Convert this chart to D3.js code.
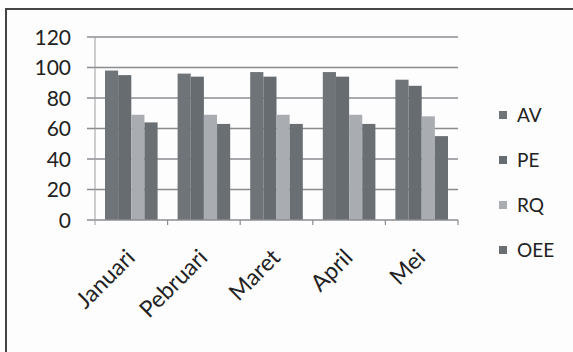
<!DOCTYPE html>
<html><head><meta charset="utf-8">
<script src="https://cdn.jsdelivr.net/npm/d3@7"></script>
<style>
html,body{margin:0;padding:0;background:#fdfdfd;}
svg{display:block;}
text{font-family:Lato,"Open Sans",sans-serif;fill:#222;}
</style></head><body>
<svg id="c" width="573" height="352"></svg>
<script>
const categories = ["Januari","Pebruari","Maret","April","Mei"];
const seriesNames = ["AV","PE","RQ","OEE"];
const AV  = [98, 96, 97, 97, 92];
const PE  = [95, 94, 94, 94, 88];
const RQ  = [69, 69, 69, 69, 68];
const OEE = [64, 63, 63, 63, 55];
const yTicks = [0,20,40,60,80,100,120];
const colors = ["#6f7479","#676c71","#a9adb2","#6a6f74"];

const values = [AV, PE, RQ, OEE];
const svg = d3.select("#c");

// frame
svg.append("path").attr("d","M6,352 L6,9 L573,9").attr("fill","none")
  .attr("stroke","#444").attr("stroke-width",2);

const x = d3.scaleBand().domain(categories).range([95,458]).padding(0);
const gap = 10;
const xs = d3.scaleBand().domain(seriesNames).range([gap, x.bandwidth()-gap]).padding(0);
const y = d3.scaleLinear().domain([0,120]).range([220,37]);

// gridlines
svg.append("g").selectAll("line").data(yTicks.filter(d=>d>0)).join("line")
  .attr("x1",87).attr("x2",458).attr("y1",d=>y(d)).attr("y2",d=>y(d))
  .attr("stroke","#8a8d90").attr("stroke-width",1.5);

// y axis labels
svg.append("g").selectAll("text").data(yTicks).join("text")
  .attr("x",71).attr("y",d=>y(d)).attr("dy","0.36em")
  .attr("text-anchor","end").attr("font-size",21).text(d=>d);

// bars
const data = [];
categories.forEach((c,i)=>seriesNames.forEach((s,j)=>data.push({c,s,v:values[j][i],j})));
svg.append("g").selectAll("rect").data(data).join("rect")
  .attr("x",d=>x(d.c)+xs(d.s)).attr("width",xs.bandwidth())
  .attr("y",d=>y(d.v)).attr("height",d=>y(0)-y(d.v))
  .attr("fill",d=>colors[d.j]);

// x axis
const ax = svg.append("g").attr("transform","translate(0,220)");
ax.append("line").attr("x1",87).attr("x2",458).attr("y1",0).attr("y2",0)
  .attr("stroke","#8a8d90").attr("stroke-width",1.5);
ax.append("line").attr("x1",95).attr("x2",95).attr("y1",-183).attr("y2",5)
  .attr("stroke","#9a9da0").attr("stroke-width",1);
const bounds = categories.map(c=>x(c)+x.bandwidth());
ax.selectAll("line.tk").data(bounds).join("line").attr("class","tk")
  .attr("x1",d=>d).attr("x2",d=>d).attr("y1",0).attr("y2",5)
  .attr("stroke","#8a8d90").attr("stroke-width",1.2);
ax.selectAll("text").data(categories).join("text")
  .attr("transform",d=>`translate(${x(d)+x.bandwidth()/2+5},${39}) rotate(-45)`)
  .attr("text-anchor","end").attr("font-size",23).text(d=>d);

// legend
const lg = svg.append("g");
seriesNames.forEach((s,j)=>{
  const yy = 115 + j*45;
  lg.append("rect").attr("x",499).attr("y",yy-4).attr("width",8).attr("height",8).attr("fill",colors[j]);
  lg.append("text").attr("x",517).attr("y",yy).attr("dy","0.36em").attr("font-size",19).text(s);
});
</script>
</body></html>
